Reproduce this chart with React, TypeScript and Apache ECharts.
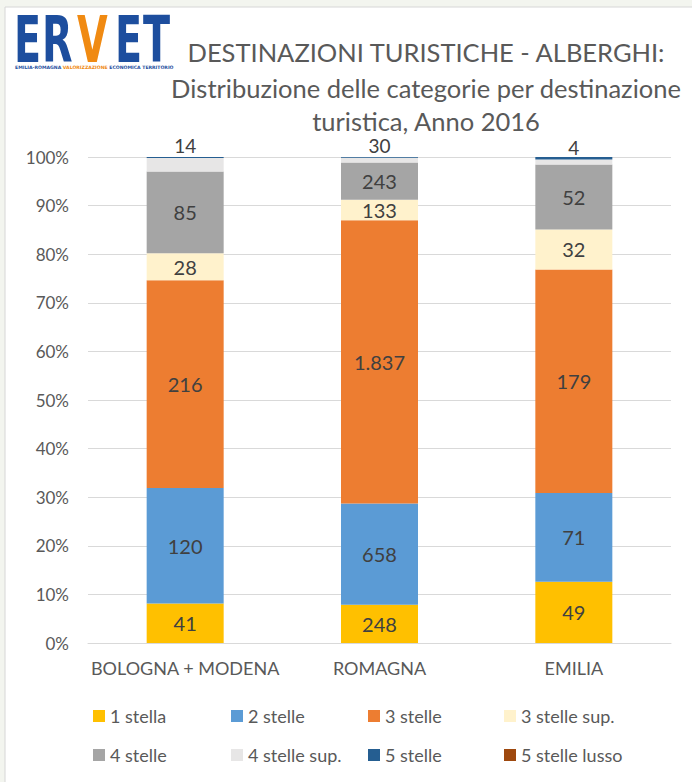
import React, { useEffect, useRef } from 'react';
import * as echarts from 'echarts';

const categories = ['BOLOGNA + MODENA', 'ROMAGNA', 'EMILIA'];
const seriesNames = ['1 stella', '2 stelle', '3 stelle', '3 stelle sup.', '4 stelle', '4 stelle sup.', '5 stelle', '5 stelle lusso'];
const stella1 = [41, 248, 49];
const stelle2 = [120, 658, 71];
const stelle3 = [216, 1837, 179];
const stelle3sup = [28, 133, 32];
const stelle4 = [85, 243, 52];
const stelle4sup = [14, 30, 4];
const stelle5 = [1, 5, 2];
const stelle5lusso = [0, 0, 0];
const seriesValues = [stella1, stelle2, stelle3, stelle3sup, stelle4, stelle4sup, stelle5, stelle5lusso];
const seriesColors = ['#FFC000', '#5B9BD5', '#ED7D31', '#FFF2CC', '#A5A5A5', '#E7E6E6', '#255E91', '#9E480E'];
const titleLines = ['DESTINAZIONI TURISTICHE - ALBERGHI:', 'Distribuzione delle categorie per destinazione', 'turistica, Anno 2016'];

const FONT = 'Lato, "Open Sans", sans-serif';

function fmt(n: number): string {
  return String(n).replace(/\B(?=(\d{3})+(?!\d))/g, '.');
}

export default function App() {
  const ref = useRef<HTMLDivElement>(null);
  useEffect(() => {
    if (!ref.current) return;
    const chart = echarts.init(ref.current, null, { renderer: 'svg' });
    const totals = categories.map((_, ci) => seriesValues.reduce((s, arr) => s + arr[ci], 0));
    const legendX = [93, 231, 368, 504];
    const series = seriesNames.map((name, si) => {
      const vals = seriesValues[si];
      const labelShown = si <= 5;
      const isTop = si === 5;
      return {
        name,
        type: 'bar',
        stack: 'total',
        barWidth: 77,
        itemStyle: { color: seriesColors[si] },
        label: {
          show: labelShown,
          position: isTop ? 'top' : 'inside',
          distance: 3,
          fontSize: isTop ? 19 : 20,
          lineHeight: isTop ? 18 : 22,
          color: '#404040',
          fontFamily: FONT,
          formatter: (p: any) => fmt(vals[p.dataIndex]),
        },
        emphasis: { disabled: true },
        data: vals.map((v, ci) => (v / totals[ci]) * 100),
      };
    });
    const letter = (t: string, x: number, color: string) => ({
      type: 'text',
      x,
      y: 8,
      scaleX: 0.62,
      style: { text: t, fill: color, fontSize: 64, fontWeight: 'bold', fontFamily: '"DejaVu Sans", sans-serif', align: 'left', verticalAlign: 'top' },
    });
    chart.setOption({
      animation: false,
      backgroundColor: '#f3f5ef',
      textStyle: { fontFamily: FONT },
      grid: { left: 88, right: 21, top: 157, bottom: 139 },
      xAxis: {
        type: 'category',
        data: categories,
        axisLine: { show: true, lineStyle: { color: '#d9d9d9' } },
        axisTick: { show: false },
        axisLabel: { interval: 0, fontSize: 18, color: '#595959', margin: 16, fontFamily: FONT },
      },
      yAxis: {
        type: 'value',
        min: 0,
        max: 100,
        interval: 10,
        axisLine: { show: false },
        axisTick: { show: false },
        splitLine: { lineStyle: { color: '#d9d9d9' } },
        axisLabel: { fontSize: 17, color: '#595959', margin: 19, fontFamily: FONT, formatter: '{value}%' },
      },
      legend: seriesNames.map((n, i) => ({
        data: [n],
        left: legendX[i % 4],
        top: i < 4 ? 707 : 746,
        padding: 0,
        itemWidth: 12,
        itemHeight: 12,
        icon: 'rect',
        selectedMode: false,
        textStyle: { fontSize: 18, color: '#595959', fontFamily: FONT },
      })),
      graphic: [
        { type: 'rect', z: -10, shape: { x: 5, y: 7, width: 700, height: 790 }, style: { fill: '#ffffff', stroke: '#d6d6d6', lineWidth: 1 } },
        letter('E', 14, '#1d4e9e'),
        letter('R', 42, '#1d4e9e'),
        letter('V', 77, '#f08a12'),
        letter('E', 115, '#1d4e9e'),
        letter('T', 143, '#1d4e9e'),
        {
          type: 'text', x: 15, y: 65,
          style: {
            text: '{b|EMILIA-ROMAGNA }{o|VALORIZZAZIONE}{b| ECONOMICA TERRITORIO}',
            rich: {
              b: { fill: '#1d4e9e', fontSize: 4.6, fontWeight: 'bold', fontFamily: '"DejaVu Sans", sans-serif' },
              o: { fill: '#f08a12', fontSize: 4.6, fontWeight: 'bold', fontFamily: '"DejaVu Sans", sans-serif' },
            },
          },
        },
        ...titleLines.map((t, i) => ({
          type: 'text', x: 426, y: [52, 88, 121][i],
          style: { text: t, fill: '#595959', fontSize: 25.5, lineHeight: 26, fontFamily: FONT, fontWeight: 'normal', align: 'center', verticalAlign: 'middle' },
        })),
      ],
      series,
    });
    return () => chart.dispose();
  }, []);
  return <div ref={ref} style={{ position: 'fixed', left: 0, top: 0, width: 692, height: 782 }} />;
}
